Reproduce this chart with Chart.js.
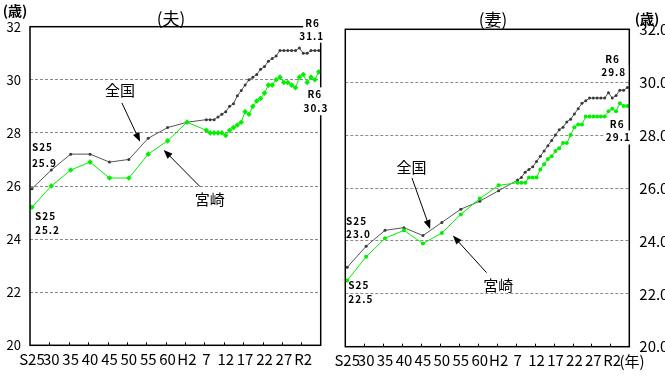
<!DOCTYPE html>
<html lang="ja">
<head>
<meta charset="utf-8">
<title>平均初婚年齢の推移</title>
<script src="https://cdn.jsdelivr.net/npm/chart.js@4.4.1/dist/chart.umd.min.js"></script>
<style>
  html, body { margin: 0; padding: 0; background: #fff; }
  .wrap { position: relative; width: 665px; height: 392px; overflow: hidden; }
  .panel { position: absolute; top: 0; height: 392px; }
  #panelHusband { left: 0; width: 332px; }
  #panelWife { left: 332px; width: 333px; }
</style>
</head>
<body>
<div class="wrap">
  <div class="panel" id="panelHusband"><canvas id="husband"></canvas></div>
  <div class="panel" id="panelWife"><canvas id="wife"></canvas></div>
</div>
<script>
// 年次：S25〜H2は5年おき、H7以降は毎年
const years = [1950, 1955, 1960, 1965, 1970, 1975, 1980, 1985, 1990,
  1995, 1996, 1997, 1998, 1999, 2000, 2001, 2002, 2003, 2004,
  2005, 2006, 2007, 2008, 2009, 2010, 2011, 2012, 2013, 2014,
  2015, 2016, 2017, 2018, 2019, 2020, 2021, 2022, 2023, 2024];

// 夫の平均初婚年齢
const husbandZenkoku = [25.9, 26.6, 27.2, 27.2, 26.9, 27.0, 27.8, 28.2, 28.4,
  28.5, 28.5, 28.5, 28.6, 28.7, 28.8, 29.0, 29.1, 29.4, 29.6,
  29.8, 30.0, 30.1, 30.2, 30.4, 30.5, 30.7, 30.8, 30.9, 31.1,
  31.1, 31.1, 31.1, 31.1, 31.2, 31.0, 31.0, 31.1, 31.1, 31.1];
const husbandMiyazaki = [25.2, 26.0, 26.6, 26.9, 26.3, 26.3, 27.2, 27.7, 28.4,
  28.1, 28.0, 28.0, 28.0, 28.0, 27.9, 28.1, 28.2, 28.3, 28.4,
  28.8, 28.7, 29.0, 29.2, 29.3, 29.5, 29.8, 29.8, 30.0, 30.1,
  29.9, 29.9, 29.8, 29.7, 30.1, 30.2, 29.9, 30.1, 30.0, 30.3];

// 妻の平均初婚年齢
const wifeZenkoku = [23.0, 23.8, 24.4, 24.5, 24.2, 24.7, 25.2, 25.5, 25.9,
  26.3, 26.4, 26.6, 26.7, 26.8, 27.0, 27.2, 27.4, 27.6, 27.8,
  28.0, 28.2, 28.3, 28.5, 28.6, 28.8, 29.0, 29.2, 29.3, 29.4,
  29.4, 29.4, 29.4, 29.4, 29.6, 29.4, 29.5, 29.7, 29.7, 29.8];
const wifeMiyazaki = [22.5, 23.4, 24.1, 24.4, 23.9, 24.3, 25.0, 25.6, 26.1,
  26.2, 26.2, 26.2, 26.4, 26.4, 26.4, 26.7, 26.9, 27.1, 27.2,
  27.4, 27.5, 27.7, 27.7, 28.0, 28.3, 28.4, 28.4, 28.7, 28.7,
  28.7, 28.7, 28.7, 28.7, 28.9, 29.0, 28.9, 29.2, 29.1, 29.1];

// 横軸の目盛
const tickYears = [1950, 1955, 1960, 1965, 1970, 1975, 1980, 1985, 1990, 1995, 2000, 2005, 2010, 2015, 2020];
const tickLabels = ['S25', '30', '35', '40', '45', '50', '55', '60', 'H2', '7', '12', '17', '22', '27', 'R2'];

const JP = '"Noto Sans CJK JP", "Noto Sans", sans-serif';

function pairs(vals) {
  return years.map((x, i) => ({ x: x, y: vals[i] }));
}

// 枠・内向き目盛・注記・矢印
function notesPlugin(notes) {
  return {
    id: 'notes',
    afterDraw(chart) {
      const ctx = chart.ctx;
      const xs = chart.scales.x, ys = chart.scales.y;
      const a = chart.chartArea;
      ctx.save();
      ctx.strokeStyle = '#000';
      ctx.lineWidth = 1;
      tickYears.slice(1).forEach(yr => {
        const px = Math.round(xs.getPixelForValue(yr - 0.5)) + 0.5;
        ctx.beginPath();
        ctx.moveTo(px, a.bottom);
        ctx.lineTo(px, a.bottom - 3);
        ctx.stroke();
      });
      ctx.lineWidth = 1.5;
      ctx.strokeRect(a.left, a.top, a.right - a.left, a.bottom - a.top);

      ctx.lineWidth = 1;
      ctx.fillStyle = '#000';
      notes.arrows.forEach(ar => {
        const x1 = xs.getPixelForValue(ar.from[0]), y1 = ys.getPixelForValue(ar.from[1]);
        const x2 = xs.getPixelForValue(ar.to[0]), y2 = ys.getPixelForValue(ar.to[1]);
        const ang = Math.atan2(y2 - y1, x2 - x1);
        ctx.beginPath();
        ctx.moveTo(x1, y1);
        ctx.lineTo(x2 - 6 * Math.cos(ang), y2 - 6 * Math.sin(ang));
        ctx.stroke();
        ctx.beginPath();
        ctx.moveTo(x2, y2);
        ctx.lineTo(x2 - 9 * Math.cos(ang) + 3.5 * Math.sin(ang), y2 - 9 * Math.sin(ang) - 3.5 * Math.cos(ang));
        ctx.lineTo(x2 - 9 * Math.cos(ang) - 3.5 * Math.sin(ang), y2 - 9 * Math.sin(ang) + 3.5 * Math.cos(ang));
        ctx.closePath();
        ctx.fill();
      });

      notes.texts.forEach(t => {
        const px = t.px !== undefined ? t.px : xs.getPixelForValue(t.x);
        const py = t.py !== undefined ? t.py : ys.getPixelForValue(t.y);
        ctx.font = (t.weight || 'normal') + ' ' + t.size + 'px ' + JP;
        ctx.letterSpacing = t.spacing || '0px';
        ctx.textAlign = t.align || 'center';
        ctx.textBaseline = 'middle';
        if (t.bg) {
          const w = ctx.measureText(t.text).width;
          const left = ctx.textAlign === 'left' ? px : px - w / 2;
          ctx.fillStyle = '#fff';
          ctx.fillRect(left - 2, py - t.size / 2 - 2, w + 4, t.size + 4);
        }
        ctx.fillStyle = '#000';
        ctx.fillText(t.text, px, py);
      });
      ctx.restore();
    }
  };
}

function makeChart(id, cfg) {
  return new Chart(document.getElementById(id), {
    type: 'line',
    data: {
      datasets: [
        { label: '宮崎', data: pairs(cfg.miyazaki), borderColor: '#00f000', backgroundColor: '#00f000',
          borderWidth: 1, pointStyle: cfg.marker, pointRadius: cfg.markerSize, pointBorderWidth: 0, tension: 0 },
        { label: '全国', data: pairs(cfg.zenkoku), borderColor: '#555', backgroundColor: '#3a3a3a',
          borderWidth: 1, pointRadius: 1.5, pointBorderWidth: 0, tension: 0 }
      ]
    },
    options: {
      responsive: true,
      maintainAspectRatio: false,
      animation: false,
      layout: { padding: cfg.padding },
      plugins: { legend: { display: false }, tooltip: { enabled: false } },
      scales: {
        x: {
          type: 'linear', min: 1949.5, max: 2024.5,
          afterBuildTicks: s => { s.ticks = tickYears.map(v => ({ value: v })); },
          afterFit: s => { s.height = cfg.xAxisHeight; s.paddingLeft = 0; s.paddingRight = 0; },
          grid: { display: false, drawTicks: false },
          border: { display: false },
          ticks: {
            autoSkip: false, maxRotation: 0, padding: 5, color: '#000',
            font: { family: JP, size: 15 },
            callback: v => { const i = tickYears.indexOf(v); return i >= 0 ? tickLabels[i] : ''; }
          }
        },
        y: {
          position: cfg.yPosition, min: 20, max: 32,
          afterFit: s => { s.width = cfg.yAxisWidth; s.paddingTop = 0; s.paddingBottom = 0; },
          ticks: { stepSize: 2, padding: cfg.yPad, color: '#000', font: { family: JP, size: cfg.yFont }, callback: cfg.yFormat },
          grid: {
            drawTicks: false, lineWidth: 1,
            color: c => (c.tick && (c.tick.value === 20 || c.tick.value === 32)) ? 'rgba(0,0,0,0)' : '#8a8a8a'
          },
          border: { display: false, dash: [3, 2] }
        }
      }
    },
    plugins: [notesPlugin(cfg.notes)]
  });
}

makeChart('husband', {
  zenkoku: husbandZenkoku,
  miyazaki: husbandMiyazaki,
  marker: 'rectRot', markerSize: 2.8,
  padding: { top: 26.7, right: 11.3, left: 0, bottom: 0 },
  yPosition: 'left', yAxisWidth: 30, yPad: 9, yFont: 13,
  yFormat: v => String(v),
  xAxisHeight: 46.7,
  notes: {
    arrows: [
      { from: [1973.2, 29.13], to: [1977.9, 27.67] },
      { from: [1993.4, 25.97], to: [1984.0, 27.36] }
    ],
    texts: [
      { text: '(歳)', px: 15, py: 11, size: 14, weight: 'bold' },
      { text: '(夫)', px: 171, py: 19, size: 17 },
      { text: '全国', x: 1972.7, y: 29.62, size: 15 },
      { text: '宮崎', x: 1995.9, y: 25.5, size: 15 },
      { text: 'S25', x: 1950.0, y: 27.47, size: 10, weight: 'bold', align: 'left', spacing: '1px' },
      { text: '25.9', x: 1950.0, y: 26.86, size: 10, weight: 'bold', align: 'left', spacing: '1px' },
      { text: 'S25', x: 1950.8, y: 24.87, size: 10, weight: 'bold', align: 'left', spacing: '1px' },
      { text: '25.2', x: 1950.8, y: 24.32, size: 10, weight: 'bold', align: 'left', spacing: '1px' },
      { text: 'R6', x: 2022.4, y: 32.15, size: 10, weight: 'bold', spacing: '1px', bg: true },
      { text: '31.1', x: 2022.2, y: 31.66, size: 10, weight: 'bold', spacing: '1px', bg: true },
      { text: 'R6', x: 2023.0, y: 29.45, size: 10, weight: 'bold', spacing: '1px', bg: true },
      { text: '30.3', x: 2023.3, y: 28.93, size: 10, weight: 'bold', spacing: '1px', bg: true }
    ]
  }
});

makeChart('wife', {
  zenkoku: wifeZenkoku,
  miyazaki: wifeMiyazaki,
  marker: 'circle', markerSize: 2,
  padding: { top: 29.3, right: 0, left: 13.3, bottom: 0 },
  yPosition: 'right', yAxisWidth: 35.7, yPad: 10, yFont: 15,
  yFormat: v => Number(v).toFixed(1),
  xAxisHeight: 45.3,
  notes: {
    arrows: [
      { from: [1967.1, 26.38], to: [1971.9, 24.45] },
      { from: [1986.8, 22.80], to: [1977.9, 24.20] }
    ],
    texts: [
      { text: '(妻)', px: 161, py: 20, size: 17 },
      { text: '(歳)', px: 315, py: 19, size: 14, weight: 'bold' },
      { text: '(年)', px: 300, py: 361, size: 15 },
      { text: '全国', x: 1967.0, y: 26.78, size: 15 },
      { text: '宮崎', x: 1989.9, y: 22.31, size: 15 },
      { text: 'S25', x: 1949.7, y: 24.76, size: 10, weight: 'bold', align: 'left', spacing: '1px' },
      { text: '23.0', x: 1949.7, y: 24.24, size: 10, weight: 'bold', align: 'left', spacing: '1px' },
      { text: 'S25', x: 1950.3, y: 22.31, size: 10, weight: 'bold', align: 'left', spacing: '1px' },
      { text: '22.5', x: 1950.3, y: 21.78, size: 10, weight: 'bold', align: 'left', spacing: '1px' },
      { text: 'R6', x: 2020.1, y: 30.88, size: 10, weight: 'bold', spacing: '1px', bg: true },
      { text: '29.8', x: 2020.4, y: 30.36, size: 10, weight: 'bold', spacing: '1px', bg: true },
      { text: 'R6', x: 2021.3, y: 28.43, size: 10, weight: 'bold', spacing: '1px', bg: true },
      { text: '29.1', x: 2021.6, y: 27.91, size: 10, weight: 'bold', spacing: '1px', bg: true }
    ]
  }
});
</script>
</body>
</html>
